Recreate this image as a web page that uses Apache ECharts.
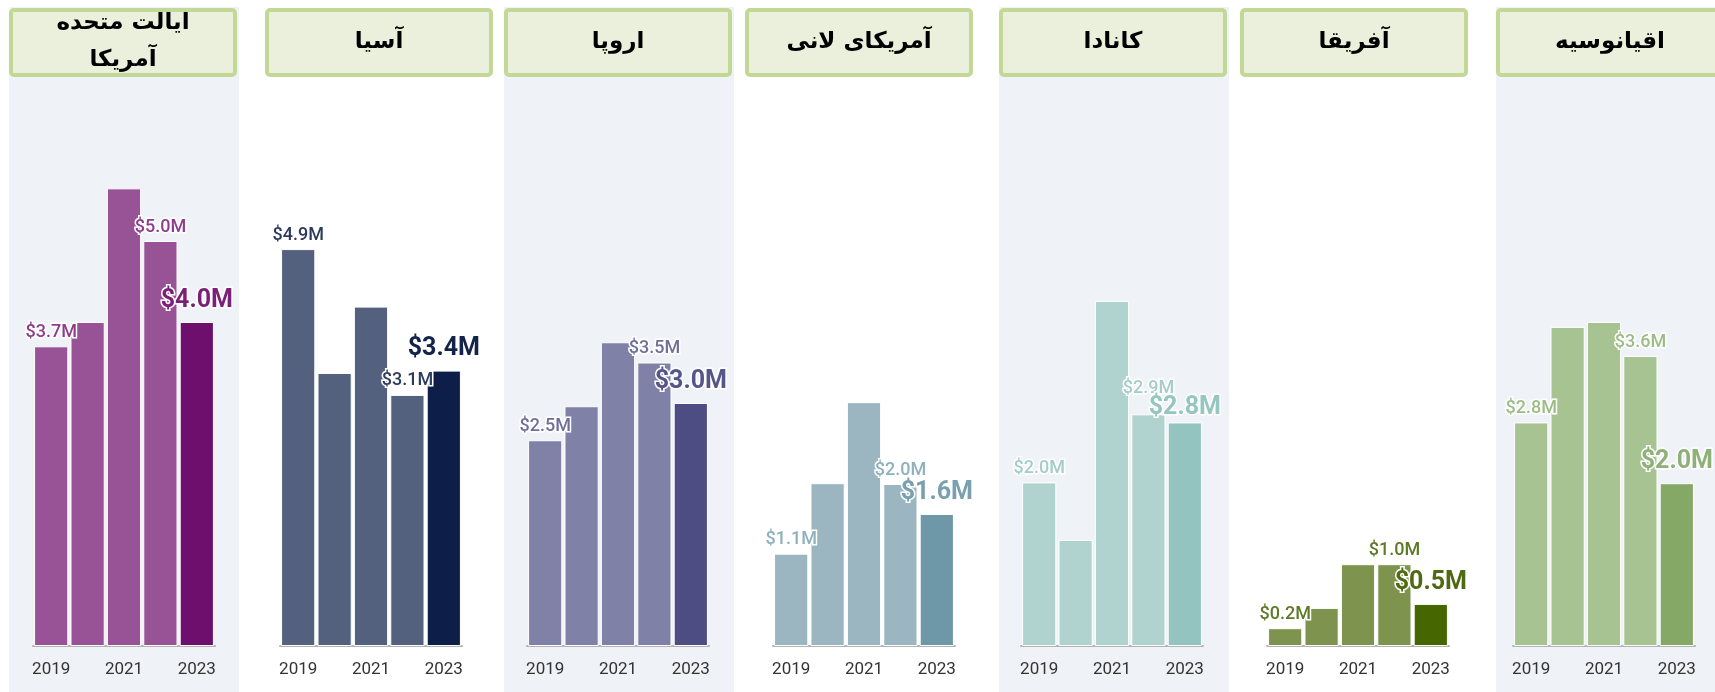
<!DOCTYPE html>
<html>
<head>
<meta charset="utf-8">
<script src="https://cdn.jsdelivr.net/npm/echarts@6/dist/echarts.min.js"></script>
<style>
  html, body { margin: 0; padding: 0; background: #fff; }
  #main { width: 1715px; height: 692px; }
</style>
</head>
<body>
<div id="main"></div>
<script>
// داده‌ها (میلیون دلار)
const regions = ['ایالت متحده\nآمریکا', 'آسیا', 'اروپا', 'آمریکای لانی', 'کانادا', 'آفریقا', 'اقیانوسیه'];
const years = ['2019', '2020', '2021', '2022', '2023'];
const usValues = [3.7, 4.0, 5.65, 5.0, 4.0];
const asiaValues = [4.9, 3.37, 4.19, 3.1, 3.4];
const europeValues = [2.54, 2.96, 3.75, 3.5, 3.0];
const latamValues = [1.14, 2.01, 3.01, 2.0, 1.63];
const canadaValues = [2.02, 1.31, 4.26, 2.86, 2.76];
const africaValues = [0.22, 0.47, 1.01, 1.01, 0.52];
const oceaniaValues = [2.76, 3.94, 4.0, 3.58, 2.01];
const allValues = [usValues, asiaValues, europeValues, latamValues, canadaValues, africaValues, oceaniaValues];

// رنگ‌ها
const barColors = ['#985396', '#53617e', '#8081a6', '#9bb5c1', '#b1d3cf', '#7e944e', '#a6c391'];
const lastColors = ['#6e0f6e', '#0d1e48', '#4d4d83', '#6e97a7', '#93c4bf', '#466602', '#86a866'];
const labelColors = ['#8e3c8c', '#2c3a5c', '#6f6f9a', '#8fb0bd', '#a5cdc8', '#5e7a26', '#9cbd86'];
const bigLabelColors = ['#7b1f79', '#14234a', '#55558a', '#7aa0af', '#96c6c0', '#4f6a12', '#8fb078'];

// چیدمان
const gridLefts = [33, 280, 527, 773, 1021, 1267, 1513];
const boxLefts = [9, 265, 504, 745, 999, 1240, 1496];
const shaded = [true, false, true, false, true, false, true];

const chart = echarts.init(document.getElementById('main'));

const graphics = [];
regions.forEach(function (name, i) {
  if (shaded[i]) {
    graphics.push({
      type: 'rect', z: -10,
      shape: { x: boxLefts[i], y: 7, width: 230, height: 685 },
      style: { fill: '#eff3f7' }
    });
  }
  graphics.push({
    type: 'rect', z: 5,
    shape: { x: boxLefts[i] + 2, y: 10, width: 224, height: 65, r: 3 },
    style: { fill: '#ebf0dc', stroke: '#c3d796', lineWidth: 4 }
  });
  graphics.push({
    type: 'text', z: 6,
    style: {
      text: name,
      x: boxLefts[i] + 114, y: 42,
      align: 'center', verticalAlign: 'middle',
      font: 'bold 23px "DejaVu Sans"',
      lineHeight: 37,
      fill: '#000'
    }
  });
});

function makeData(values, i) {
  const n = values.length;
  // اگر برچسب سال قبل با برچسب بزرگ آخر تداخل کند، از هم جدا می‌شوند
  const diff = values[n - 2] - values[n - 1];
  const clash = diff > -0.1 && diff < 0.25;
  return values.map(function (v, j) {
    const d = { value: v };
    if (j === n - 1) {
      d.itemStyle = { color: lastColors[i] };
      d.label = { show: true, fontSize: 25, fontWeight: 'bold', color: bigLabelColors[i], distance: 9 };
      if (clash) d.label.offset = [0, 7];
    } else if (j === 0 || j === n - 2) {
      d.label = { show: true, fontSize: 18, fontWeight: 500, color: labelColors[i] };
      if (j === n - 2 && clash) d.label.offset = [0, -12];
    }
    return d;
  });
}

const grids = [], xAxes = [], yAxes = [], series = [];
allValues.forEach(function (values, i) {
  grids.push({ left: gridLefts[i], width: 182, top: 160, bottom: 46 });
  xAxes.push({
    type: 'category', gridIndex: i, data: years,
    axisLine: { lineStyle: { color: '#b3b3b3', width: 2 } },
    axisTick: { show: false },
    axisLabel: { interval: 1, color: '#333', fontSize: 17, fontFamily: 'Roboto', margin: 15 }
  });
  yAxes.push({ type: 'value', gridIndex: i, min: 0, max: 6, show: false });
  series.push({
    type: 'bar', xAxisIndex: i, yAxisIndex: i,
    barCategoryGap: '6%',
    itemStyle: { color: barColors[i], borderColor: '#ffffff', borderWidth: 1 },
    label: {
      show: false, position: 'top', distance: 5,
      fontFamily: 'Roboto',
      textBorderColor: '#ffffff', textBorderWidth: 3,
      formatter: function (p) { return '$' + p.value.toFixed(1) + 'M'; }
    },
    data: makeData(values, i)
  });
});

chart.setOption({
  animation: false,
  graphic: graphics,
  grid: grids,
  xAxis: xAxes,
  yAxis: yAxes,
  series: series
});
</script>
</body>
</html>
